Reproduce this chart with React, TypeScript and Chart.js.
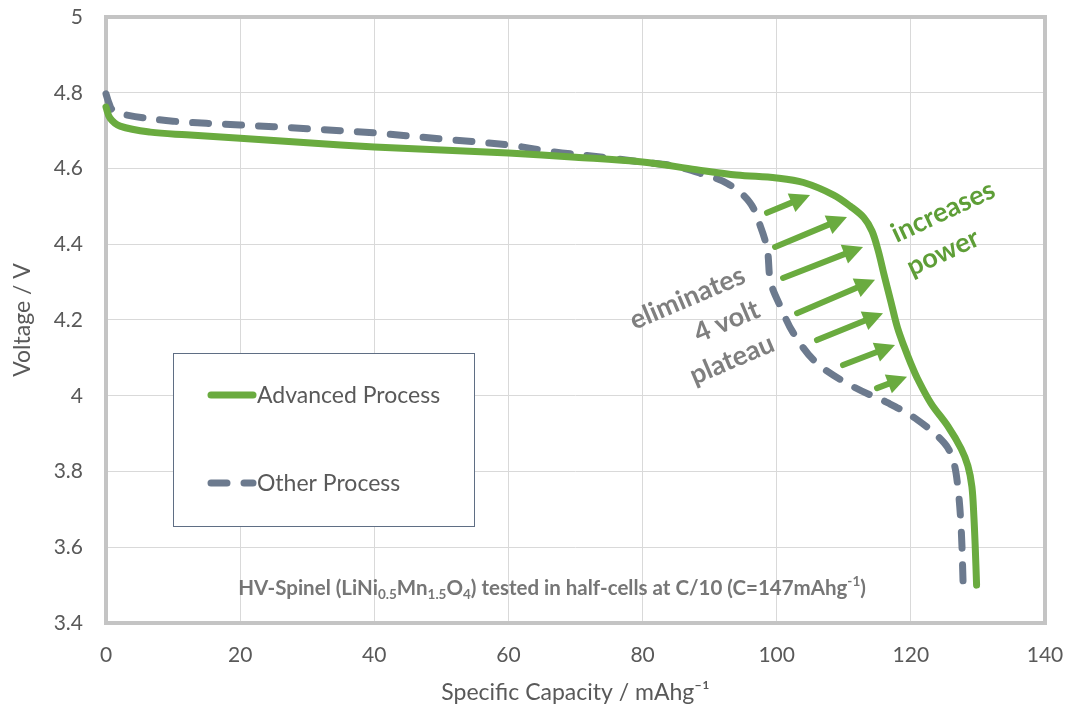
import React, { useEffect, useRef } from 'react';
import { Chart, registerables } from 'chart.js';

Chart.register(...registerables);

// ---- Data ----
const seriesNames = ['Advanced Process', 'Other Process'];

const advancedCapacity = [0, 0.6, 2.1, 6.6, 12, 20, 30, 40, 50, 60, 70, 80, 88, 94, 100, 104, 108.5, 111, 113, 114.2, 115.1, 116, 117, 118, 119, 120, 121, 123, 125.5, 127.5, 128.5, 129.1, 129.4, 129.6, 129.8];
const advancedVoltage = [4.762, 4.733, 4.712, 4.696, 4.689, 4.68, 4.668, 4.657, 4.649, 4.641, 4.63, 4.617, 4.597, 4.583, 4.575, 4.563, 4.53, 4.5, 4.47, 4.435, 4.385, 4.32, 4.25, 4.18, 4.13, 4.085, 4.045, 3.98, 3.92, 3.86, 3.815, 3.76, 3.68, 3.6, 3.5];

const otherCapacity = [0, 0.4, 1.0, 3.1, 10, 20, 30, 40, 50, 60, 66.7, 75, 80, 84.6, 88.5, 92.7, 96, 97.6, 98.6, 99.1, 100.6, 102.5, 106, 111.5, 116.6, 121, 125, 126.3, 127, 127.5, 127.8];
const otherVoltage = [4.797, 4.775, 4.754, 4.741, 4.725, 4.715, 4.705, 4.694, 4.678, 4.662, 4.644, 4.628, 4.617, 4.607, 4.588, 4.56, 4.51, 4.446, 4.385, 4.3, 4.234, 4.165, 4.086, 4.023, 3.981, 3.936, 3.875, 3.83, 3.76, 3.65, 3.5];

const xTickValues = [0, 20, 40, 60, 80, 100, 120, 140];
const yTickValues = [3.4, 3.6, 3.8, 4, 4.2, 4.4, 4.6, 4.8, 5];
const yTickLabels = ['3.4', '3.6', '3.8', '4', '4.2', '4.4', '4.6', '4.8', '5'];

const xAxisTitle = 'Specific Capacity / mAhg⁻¹';
const yAxisTitle = 'Voltage / V';

// arrows from the "Other" curve towards the "Advanced" curve (data units)
const arrowStartX = [98.55, 99.75, 100.94, 103.03, 106.0, 109.88, 114.95];
const arrowStartY = [4.483, 4.393, 4.311, 4.218, 4.147, 4.081, 4.02];
const arrowEndX = [104.97, 110.48, 112.87, 114.66, 115.85, 117.64, 119.43];
const arrowEndY = [4.53, 4.472, 4.393, 4.306, 4.218, 4.134, 4.05];

const grayNoteLines = ['eliminates', '4 volt', 'plateau'];
const grayNoteAnchor = [95.1, 4.321];
const greenNoteLines = ['increases', 'power'];
const greenNoteAnchor = [117.3, 4.424];

// bottom note: [text, kind] kind: n = normal, b = subscript, p = superscript
const noteParts: [string, string][] = [
  ['HV-Spinel (LiNi', 'n'], ['0.5', 'b'], ['Mn', 'n'], ['1.5', 'b'], ['O', 'n'], ['4', 'b'],
  [') tested in half-cells at C/10 (C=147mAhg', 'n'], ['-1', 'p'], [')', 'n'],
];
const noteAnchor = [66.5, 3.492];

const GREEN = '#6AAB3F';
const GREEN_TEXT = '#5E9E37';
const SLATE = '#6C7A8E';
const TEXT = '#595959';
const FONT = 'Lato, "Open Sans", sans-serif';

const framePlugin = {
  id: 'frame',
  beforeDatasetsDraw(chart: any) {
    const { ctx, chartArea: a } = chart;
    ctx.save();
    ctx.strokeStyle = '#C4C4C4';
    ctx.lineWidth = 4;
    ctx.strokeRect(a.left, a.top, a.right - a.left, a.bottom - a.top);
    ctx.restore();
  },
};

const annotationPlugin = {
  id: 'annotations',
  afterDatasetsDraw(chart: any) {
    const { ctx } = chart;
    const xs = chart.scales.x;
    const ys = chart.scales.y;
    ctx.save();
    // arrows
    ctx.strokeStyle = GREEN;
    ctx.fillStyle = GREEN;
    for (let i = 0; i < arrowStartX.length; i++) {
      const x1 = xs.getPixelForValue(arrowStartX[i]);
      const y1 = ys.getPixelForValue(arrowStartY[i]);
      const x2 = xs.getPixelForValue(arrowEndX[i]);
      const y2 = ys.getPixelForValue(arrowEndY[i]);
      const ang = Math.atan2(y2 - y1, x2 - x1);
      const headLen = 20;
      const headHalf = 10;
      const c = Math.cos(ang);
      const s = Math.sin(ang);
      const bx = x2 - headLen * c;
      const by = y2 - headLen * s;
      ctx.lineWidth = 6;
      ctx.lineCap = 'round';
      ctx.beginPath();
      ctx.moveTo(x1, y1);
      ctx.lineTo(bx + 2 * c, by + 2 * s);
      ctx.stroke();
      ctx.beginPath();
      ctx.moveTo(x2, y2);
      ctx.lineTo(bx + headHalf * s, by - headHalf * c);
      ctx.lineTo(bx - headHalf * s, by + headHalf * c);
      ctx.closePath();
      ctx.fill();
    }

    const lineGap = 37;
    // gray rotated note, right-aligned
    ctx.save();
    ctx.translate(xs.getPixelForValue(grayNoteAnchor[0]), ys.getPixelForValue(grayNoteAnchor[1]));
    ctx.rotate((-23 * Math.PI) / 180);
    ctx.font = `bold 27px ${FONT}`;
    ctx.fillStyle = '#7F7F7F';
    ctx.textAlign = 'right';
    ctx.textBaseline = 'middle';
    grayNoteLines.forEach((t, i) => ctx.fillText(t, 0, i * lineGap));
    ctx.restore();

    // green rotated note, left-aligned
    ctx.save();
    ctx.translate(xs.getPixelForValue(greenNoteAnchor[0]), ys.getPixelForValue(greenNoteAnchor[1]));
    ctx.rotate((-25 * Math.PI) / 180);
    ctx.font = `bold 27px ${FONT}`;
    ctx.fillStyle = GREEN_TEXT;
    ctx.textAlign = 'left';
    ctx.textBaseline = 'middle';
    greenNoteLines.forEach((t, i) => ctx.fillText(t, 0, i * lineGap));
    ctx.restore();

    // bottom note with sub/superscripts
    const size = 20.5;
    const small = 13.5;
    const fontFor = (k: string) => `bold ${k === 'n' ? size : small}px ${FONT}`;
    let total = 0;
    noteParts.forEach(([t, k]) => {
      ctx.font = fontFor(k);
      total += ctx.measureText(t).width;
    });
    let x = xs.getPixelForValue(noteAnchor[0]) - total / 2;
    const y = ys.getPixelForValue(noteAnchor[1]) + 7;
    ctx.fillStyle = '#767676';
    ctx.textAlign = 'left';
    ctx.textBaseline = 'alphabetic';
    noteParts.forEach(([t, k]) => {
      ctx.font = fontFor(k);
      const dy = k === 'b' ? 4 : k === 'p' ? -9 : 0;
      ctx.fillText(t, x, y + dy);
      x += ctx.measureText(t).width;
    });
    ctx.restore();
  },
  afterDraw(chart: any) {
    const { ctx, chartArea: a } = chart;
    // legend box
    const bx = a.left + 67;
    const by = a.top + 336;
    const bw = 301;
    const bh = 173;
    ctx.save();
    ctx.fillStyle = '#FFFFFF';
    ctx.fillRect(bx, by, bw, bh);
    ctx.strokeStyle = '#5F6E84';
    ctx.lineWidth = 1;
    ctx.strokeRect(bx + 0.5, by + 0.5, bw, bh);
    const rows = [by + 42, by + 130];
    chart.data.datasets.forEach((ds: any, i: number) => {
      const yy = rows[i];
      ctx.strokeStyle = ds.borderColor;
      ctx.lineWidth = ds.borderWidth;
      ctx.lineCap = 'round';
      ctx.setLineDash(ds.borderDash || []);
      ctx.beginPath();
      ctx.moveTo(bx + 38, yy);
      ctx.lineTo(bx + 80, yy);
      ctx.stroke();
      ctx.setLineDash([]);
      ctx.font = `23px ${FONT}`;
      ctx.fillStyle = TEXT;
      ctx.textAlign = 'left';
      ctx.textBaseline = 'middle';
      ctx.fillText(ds.label, bx + 84, yy + 1);
    });
    ctx.restore();
  },
};

export default function App() {
  const canvasRef = useRef<HTMLCanvasElement | null>(null);

  useEffect(() => {
    if (!canvasRef.current) return;
    const chart = new Chart(canvasRef.current, {
      type: 'scatter',
      data: {
        datasets: [
          {
            label: seriesNames[0],
            data: advancedCapacity.map((x, i) => ({ x, y: advancedVoltage[i] })),
            showLine: true,
            borderColor: GREEN,
            backgroundColor: GREEN,
            borderWidth: 7,
            pointRadius: 0,
            tension: 0.35,
            borderCapStyle: 'round',
            borderJoinStyle: 'round',
            clip: 8,
          },
          {
            label: seriesNames[1],
            data: otherCapacity.map((x, i) => ({ x, y: otherVoltage[i] })),
            showLine: true,
            borderColor: SLATE,
            backgroundColor: SLATE,
            borderWidth: 7,
            borderDash: [16, 17],
            pointRadius: 0,
            tension: 0.35,
            borderCapStyle: 'round',
            borderJoinStyle: 'round',
            clip: 8,
          },
        ],
      },
      options: {
        animation: false,
        responsive: false,
        devicePixelRatio: 1,
        layout: { padding: { left: 0, right: 23, top: 17, bottom: 0 } },
        plugins: {
          legend: { display: false },
          tooltip: { enabled: false },
        },
        scales: {
          x: {
            type: 'linear',
            min: 0,
            max: 140,
            afterBuildTicks: (s: any) => {
              s.ticks = xTickValues.map((v) => ({ value: v }));
            },
            afterFit: (s: any) => {
              s.height = 83;
              s.paddingLeft = 0;
              s.paddingRight = 0;
            },
            grid: { color: '#D9D9D9', lineWidth: 1, drawTicks: false },
            border: { display: false },
            ticks: {
              color: TEXT,
              font: { family: FONT, size: 21 },
              padding: 20,
              maxRotation: 0,
            },
            title: {
              display: true,
              text: xAxisTitle,
              color: TEXT,
              font: { family: FONT, size: 23 },
              padding: 0,
            },
          },
          y: {
            type: 'linear',
            min: 3.4,
            max: 5,
            afterBuildTicks: (s: any) => {
              s.ticks = yTickValues.map((v) => ({ value: v }));
            },
            afterFit: (s: any) => {
              s.width = 106;
              s.paddingTop = 0;
              s.paddingBottom = 0;
            },
            grid: { color: '#D9D9D9', lineWidth: 1, drawTicks: false },
            border: { display: false },
            ticks: {
              color: TEXT,
              font: { family: FONT, size: 21 },
              padding: 23,
              callback: (v: any) => {
                const idx = yTickValues.findIndex((t) => Math.abs(t - v) < 1e-6);
                return idx >= 0 ? yTickLabels[idx] : '';
              },
            },
            title: {
              display: true,
              text: yAxisTitle,
              color: TEXT,
              font: { family: FONT, size: 23 },
              padding: 9,
            },
          },
        },
      },
      plugins: [framePlugin, annotationPlugin],
    } as any);
    return () => chart.destroy();
  }, []);

  return (
    <div style={{ position: 'fixed', left: 0, top: 0, width: 1068, height: 706, background: '#fff' }}>
      <canvas ref={canvasRef} width={1068} height={706} style={{ display: 'block' }} />
    </div>
  );
}
